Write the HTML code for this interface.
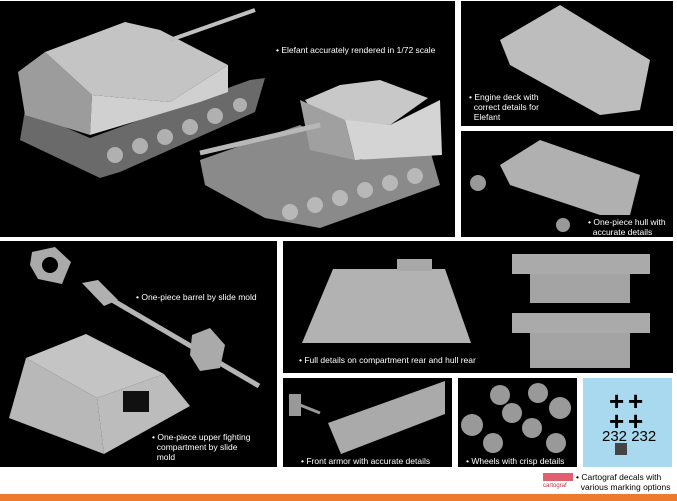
<!DOCTYPE html>
<html><head><style>
body{margin:0;width:677px;height:501px;background:#fff;position:relative;overflow:hidden;font-family:"Liberation Sans",sans-serif}
.p{position:absolute;background:#000}
.t{position:absolute;color:#fff;font-size:8.5px;line-height:10px}
svg{position:absolute;left:0;top:0}
</style></head><body>
<div class="p" style="left:0;top:1px;width:455px;height:236px"></div>
<div class="p" style="left:461px;top:1px;width:212px;height:125px"></div>
<div class="p" style="left:461px;top:131px;width:212px;height:106px"></div>
<div class="p" style="left:0;top:241px;width:277px;height:226px"></div>
<div class="p" style="left:283px;top:241px;width:390px;height:132px"></div>
<div class="p" style="left:283px;top:378px;width:169px;height:89px"></div>
<div class="p" style="left:458px;top:378px;width:119px;height:89px"></div>
<div style="position:absolute;left:583px;top:378px;width:89px;height:89px;background:#a9d9ee"></div>
<div style="position:absolute;left:0;top:494px;width:677px;height:7px;background:#ee7a2e"></div>
<svg width="677" height="501">
<!-- tank 1 -->
<polygon points="25,110 90,138 250,80 265,78 255,112 120,172 100,178 20,140" fill="#6a6a6a"/>
<g fill="#b0b0b0"><circle cx="115" cy="155" r="8"/><circle cx="140" cy="146" r="8"/><circle cx="165" cy="137" r="8"/><circle cx="190" cy="127" r="8"/><circle cx="215" cy="116" r="8"/><circle cx="240" cy="105" r="7"/></g>
<polygon points="18,72 45,52 92,95 90,135 25,115" fill="#9c9c9c"/>
<polygon points="92,95 170,102 228,65 228,92 200,102 90,135" fill="#d0d0d0"/>
<polygon points="45,52 125,22 160,30 228,65 170,102 92,95" fill="#c4c4c4"/>
<line x1="170" y1="40" x2="255" y2="10" stroke="#c0c0c0" stroke-width="4"/>
<!-- tank 2 -->
<polygon points="200,160 300,125 360,160 430,150 440,185 320,228 265,218 205,185" fill="#8a8a8a"/>
<g fill="#b8b8b8"><circle cx="290" cy="212" r="8"/><circle cx="315" cy="205" r="8"/><circle cx="340" cy="198" r="8"/><circle cx="365" cy="190" r="8"/><circle cx="390" cy="183" r="8"/><circle cx="415" cy="176" r="8"/></g>
<polygon points="305,100 340,85 380,80 428,98 390,125 320,120" fill="#c8c8c8"/>
<polygon points="345,120 390,125 440,100 442,155 355,160" fill="#d4d4d4"/>
<polygon points="300,100 345,120 355,160 310,150" fill="#a0a0a0"/>
<line x1="200" y1="153" x2="320" y2="125" stroke="#b8b8b8" stroke-width="5"/>
<!-- engine deck -->
<polygon points="500,40 560,5 650,60 640,110 600,115 510,65" fill="#bdbdbd"/>
<!-- hull -->
<polygon points="500,165 540,140 640,175 630,215 600,215 510,185" fill="#b0b0b0"/>
<circle cx="478" cy="183" r="8" fill="#999"/><circle cx="563" cy="225" r="7" fill="#999"/>
<!-- barrel flange -->
<polygon points="32,252 55,247 71,262 62,284 38,279 30,265" fill="#aaa"/>
<circle cx="50" cy="265" r="8" fill="#000"/>
<line x1="95" y1="290" x2="259" y2="386" stroke="#b5b5b5" stroke-width="5"/>
<polygon points="82,283 98,280 118,300 104,306" fill="#b0b0b0"/>
<polygon points="192,335 210,328 225,345 220,368 200,371 190,355" fill="#aaa"/>
<!-- upper compartment -->
<polygon points="26,358 86,334 164,374 97,398" fill="#c4c4c4"/>
<polygon points="26,358 97,398 104,454 9,418" fill="#b8b8b8"/>
<polygon points="97,398 164,374 190,406 104,454" fill="#bcbcbc"/>
<rect x="123" y="391" width="26" height="21" fill="#111"/>
<!-- rear -->
<polygon points="333,269 445,269 471,343 302,343" fill="#b2b2b2"/>
<rect x="397" y="259" width="35" height="12" fill="#a8a8a8"/>
<rect x="512" y="254" width="138" height="20" fill="#aaa"/>
<rect x="530" y="274" width="100" height="29" fill="#a4a4a4"/>
<rect x="512" y="313" width="138" height="20" fill="#aaa"/>
<rect x="530" y="333" width="100" height="35" fill="#a4a4a4"/>
<!-- front armor -->
<polygon points="328,423 445,381 445,414 341,454" fill="#aaa"/>
<rect x="289" y="394" width="12" height="22" fill="#999"/>
<line x1="300" y1="405" x2="320" y2="413" stroke="#999" stroke-width="3"/>
<!-- wheels -->
<g fill="#999">
<circle cx="500" cy="395" r="10"/><circle cx="512" cy="413" r="10"/><circle cx="472" cy="425" r="11"/><circle cx="493" cy="443" r="10"/>
<circle cx="538" cy="393" r="10"/><circle cx="560" cy="408" r="11"/><circle cx="532" cy="428" r="10"/><circle cx="556" cy="443" r="10"/>
</g>
<g fill="#000" font-family="Liberation Sans" font-weight="bold" font-size="26">
<text x="609" y="410">+</text><text x="628" y="410">+</text>
<text x="609" y="430">+</text><text x="628" y="430">+</text>
</g>
<text x="602" y="441" font-size="15" font-family="Liberation Sans">232 232</text>
<rect x="615" y="443" width="12" height="12" fill="#444"/>
<rect x="543" y="473" width="30" height="8" fill="#e06070"/>
<text x="543" y="487" font-size="6" fill="#c03040" font-family="Liberation Sans">cartograf</text>
</svg>
<div class="t" style="left:276px;top:45px">• Elefant accurately rendered in 1/72 scale</div>
<div class="t" style="left:469px;top:92px">• Engine deck with<br>&nbsp; correct details for<br>&nbsp; Elefant</div>
<div class="t" style="left:588px;top:217px">• One-piece hull with<br>&nbsp; accurate details</div>
<div class="t" style="left:136px;top:292px">• One-piece barrel by slide mold</div>
<div class="t" style="left:152px;top:432px">• One-piece upper fighting<br>&nbsp; compartment by slide<br>&nbsp; mold</div>
<div class="t" style="left:299px;top:355px">• Full details on compartment rear and hull rear</div>
<div class="t" style="left:301px;top:456px">• Front armor with accurate details</div>
<div class="t" style="left:466px;top:456px">• Wheels with crisp details</div>
<div class="t" style="left:576px;top:472px;color:#000">• Cartograf decals with<br>&nbsp; various marking options</div>
</body></html>
